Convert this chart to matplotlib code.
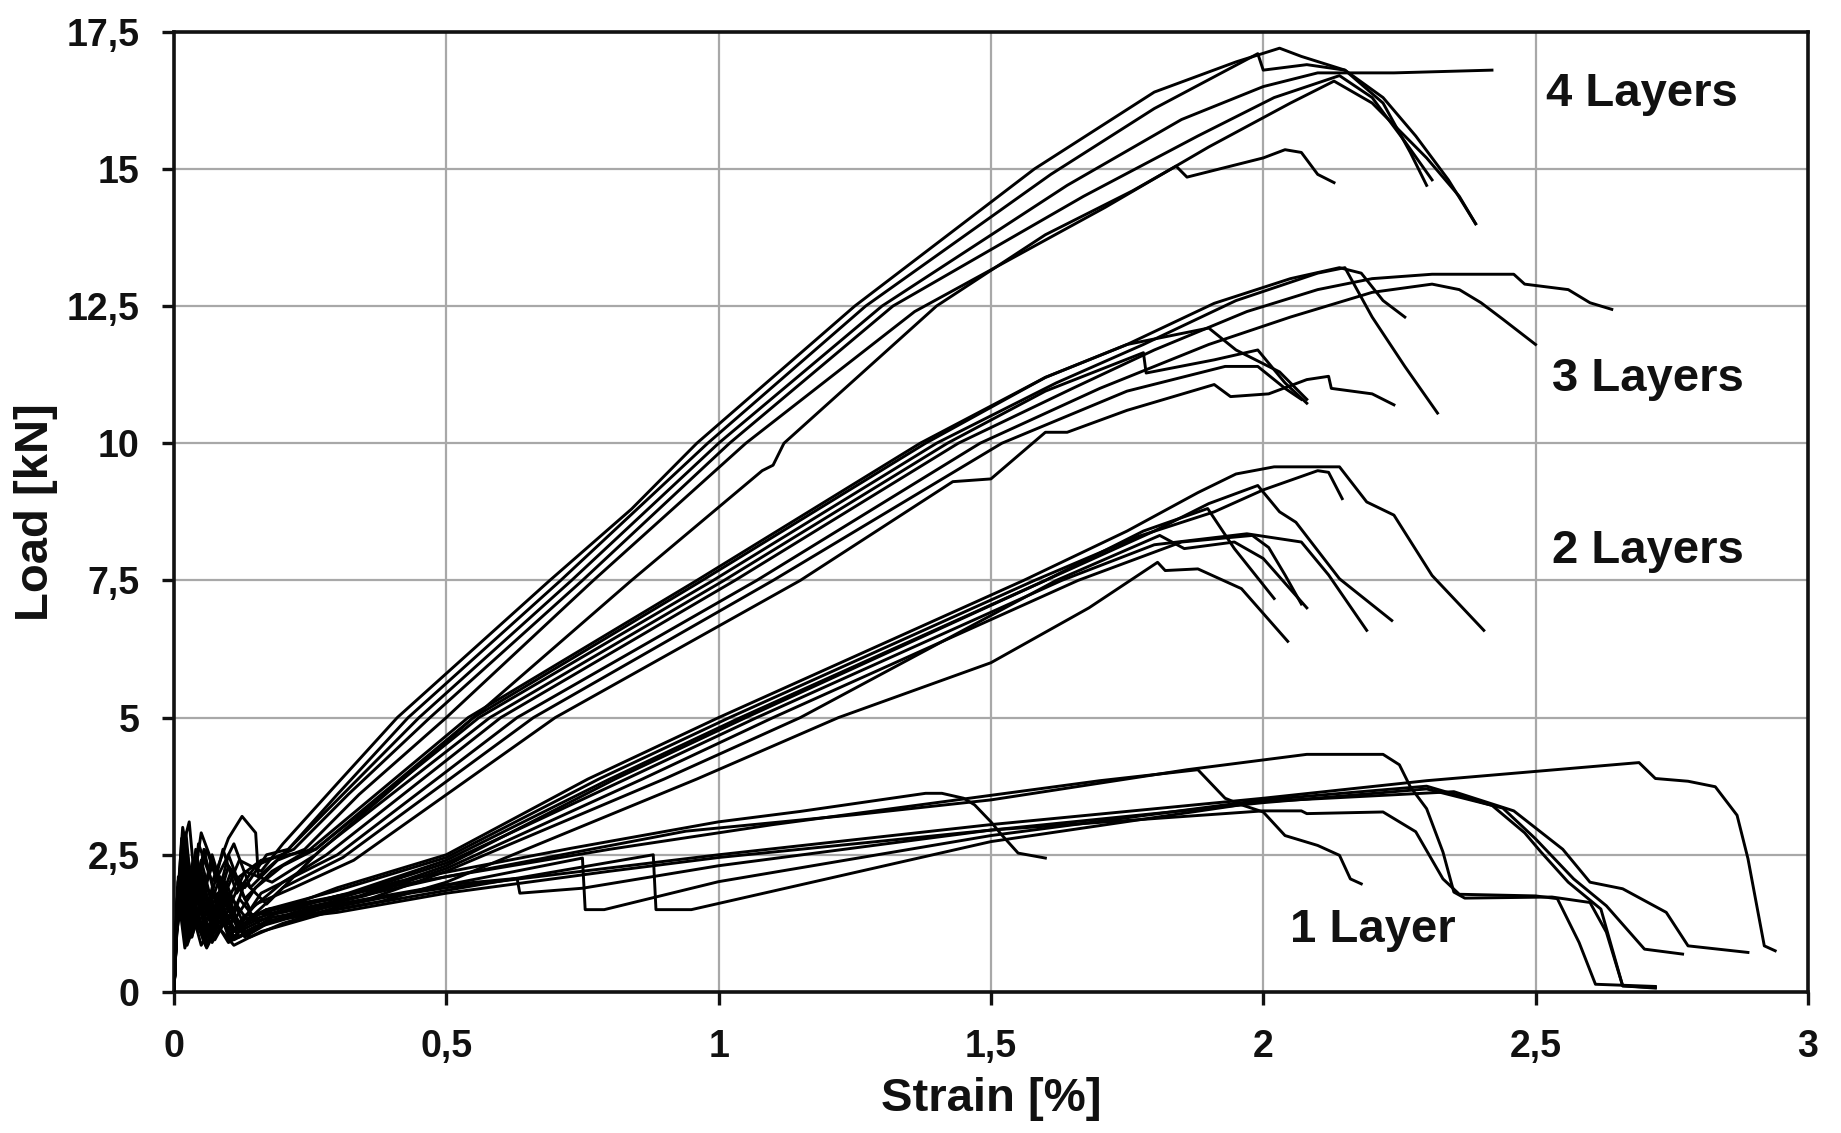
import matplotlib
matplotlib.use("Agg")
import matplotlib.pyplot as plt

plt.rcParams["font.family"] = ["Liberation Sans", "DejaVu Sans"]

# strain [%] / load [kN] points, one list per specimen

layer4 = [
    [(0, 0), (0.006, 1.4), (0.015, 2.6), (0.028, 3.1), (0.04, 1.8), (0.06, 2.6), (0.09, 1.7), (0.12, 2.4),
     (0.16, 2.2), (0.2, 2.7), (0.3, 3.8), (0.41, 5.0), (0.69, 7.5), (0.84, 8.8), (0.85, 8.9), (0.96, 10.0),
     (1.25, 12.5), (1.58, 15.0), (1.8, 16.4), (1.95, 16.95), (2.03, 17.2), (2.07, 17.05), (2.15, 16.8),
     (2.22, 16.2), (2.27, 15.3), (2.30, 14.7)],
    [(0, 0), (0.004, 1.0), (0.012, 2.2), (0.022, 2.9), (0.035, 1.5), (0.05, 2.4), (0.075, 1.4), (0.1, 2.3),
     (0.13, 1.9), (0.17, 2.5), (0.21, 2.6), (0.3, 3.6), (0.43, 5.0), (0.71, 7.5), (0.98, 10.0), (1.27, 12.5),
     (1.61, 14.9), (1.8, 16.1), (1.99, 17.1), (2.0, 16.8), (2.08, 16.9), (2.15, 16.8), (2.22, 16.3),
     (2.28, 15.6), (2.34, 14.8), (2.39, 14.0)],
    [(0, 0), (0.008, 1.8), (0.018, 2.4), (0.03, 1.3), (0.045, 2.7), (0.07, 2.0), (0.1, 2.8), (0.125, 3.2),
     (0.15, 2.9), (0.155, 2.1), (0.2, 2.5), (0.3, 3.5), (0.45, 5.0), (0.73, 7.5), (1.0, 10.0), (1.3, 12.5),
     (1.64, 14.7), (1.85, 15.9), (2.0, 16.5), (2.1, 16.75), (2.24, 16.75), (2.42, 16.8)],
    [(0, 0), (0.005, 1.2), (0.014, 2.8), (0.025, 2.0), (0.04, 2.5), (0.065, 1.6), (0.09, 2.6), (0.115, 1.8),
     (0.15, 2.3), (0.22, 2.6), (0.32, 3.6), (0.47, 5.0), (0.75, 7.5), (1.02, 10.0), (1.32, 12.5),
     (1.67, 14.5), (1.88, 15.6), (2.02, 16.3), (2.14, 16.7), (2.2, 16.3), (2.26, 15.5), (2.31, 14.8)],
    [(0, 0), (0.007, 2.0), (0.02, 2.5), (0.032, 1.7), (0.05, 2.9), (0.08, 2.1), (0.11, 2.7), (0.14, 1.9),
     (0.19, 2.4), (0.24, 2.6), (0.34, 3.6), (0.50, 5.0), (0.77, 7.5), (1.05, 10.0), (1.36, 12.4),
     (1.71, 14.3), (1.9, 15.4), (2.05, 16.2), (2.13, 16.6), (2.2, 16.2), (2.3, 15.2), (2.36, 14.5),
     (2.39, 14.0)],
    [(0, 0), (0.005, 1.5), (0.016, 3.0), (0.03, 2.2), (0.05, 1.6), (0.07, 2.5), (0.1, 1.5), (0.13, 2.2),
     (0.18, 2.0), (0.26, 2.5), (0.4, 3.7), (0.55, 5.0), (0.84, 7.5), (1.08, 9.5), (1.1, 9.6), (1.12, 10.0),
     (1.40, 12.5), (1.6, 13.8), (1.76, 14.6), (1.84, 15.05), (1.86, 14.85), (2.0, 15.2), (2.04, 15.35),
     (2.07, 15.3), (2.10, 14.9), (2.13, 14.75)],
]

layer3 = [
    [(0, 0), (0.006, 1.7), (0.018, 2.7), (0.03, 1.6), (0.05, 2.2), (0.075, 1.5), (0.1, 2.5), (0.13, 1.7),
     (0.18, 2.2), (0.25, 2.6), (0.54, 5.0), (0.96, 7.5), (1.37, 10.0), (1.6, 11.2), (1.75, 11.8),
     (1.91, 12.55), (2.05, 13.0), (2.14, 13.2), (2.18, 13.1), (2.22, 12.6), (2.26, 12.3)],
    [(0, 0), (0.004, 1.3), (0.013, 2.4), (0.025, 1.2), (0.04, 2.6), (0.06, 1.4), (0.085, 2.1), (0.11, 1.3),
     (0.15, 1.9), (0.2, 2.3), (0.26, 2.6), (0.56, 5.0), (0.99, 7.5), (1.4, 10.0), (1.62, 11.1),
     (1.78, 11.8), (1.95, 12.6), (2.1, 13.1), (2.15, 13.2), (2.2, 12.3), (2.26, 11.4), (2.32, 10.55)],
    [(0, 0), (0.007, 1.9), (0.02, 2.2), (0.033, 1.4), (0.055, 2.6), (0.08, 1.5), (0.105, 2.2),
     (0.14, 1.5), (0.2, 2.0), (0.28, 2.5), (0.6, 5.0), (1.03, 7.5), (1.44, 10.0), (1.65, 11.0), (1.8, 11.7),
     (1.97, 12.4), (2.1, 12.8), (2.2, 13.0), (2.31, 13.08), (2.46, 13.08), (2.48, 12.9), (2.56, 12.8),
     (2.6, 12.56), (2.64, 12.44)],
    [(0, 0), (0.005, 1.1), (0.015, 2.5), (0.028, 1.8), (0.045, 2.3), (0.07, 1.3), (0.095, 1.9),
     (0.12, 1.2), (0.16, 1.8), (0.22, 2.1), (0.3, 2.5), (0.63, 5.0), (1.07, 7.5), (1.48, 10.0), (1.7, 11.0),
     (1.9, 11.8), (2.05, 12.3), (2.2, 12.75), (2.31, 12.9), (2.36, 12.8), (2.4, 12.56), (2.44, 12.26),
     (2.5, 11.8)],
    [(0, 0), (0.008, 2.1), (0.02, 1.5), (0.035, 2.4), (0.055, 1.2), (0.08, 1.8), (0.1, 1.1), (0.13, 2.0),
     (0.17, 1.6), (0.27, 2.6), (0.58, 5.0), (1.01, 7.5), (1.42, 10.0), (1.6, 10.95), (1.78, 11.65),
     (1.785, 11.28), (1.91, 11.52), (1.99, 11.7), (2.04, 11.1), (2.08, 10.73)],
    [(0, 0), (0.006, 1.6), (0.017, 2.9), (0.03, 2.0), (0.048, 1.6), (0.07, 2.3), (0.095, 1.6), (0.12, 2.1),
     (0.16, 2.4), (0.26, 2.6), (0.55, 5.0), (0.97, 7.5), (1.38, 10.0), (1.6, 11.2), (1.75, 11.8),
     (1.9, 12.1), (1.95, 11.7), (2.03, 11.3), (2.08, 10.8)],
    [(0, 0), (0.005, 1.3), (0.012, 2.0), (0.026, 1.1), (0.04, 1.9), (0.06, 1.0), (0.085, 1.6), (0.11, 1.1),
     (0.15, 1.6), (0.22, 1.9), (0.33, 2.4), (0.7, 5.0), (1.15, 7.5), (1.43, 9.3), (1.5, 9.35), (1.6, 10.2),
     (1.64, 10.2), (1.75, 10.6), (1.91, 11.07), (1.94, 10.85), (2.01, 10.9), (2.08, 11.16), (2.12, 11.22),
     (2.125, 11.0), (2.2, 10.9), (2.24, 10.7)],
    [(0, 0), (0.007, 1.5), (0.019, 2.3), (0.032, 1.3), (0.05, 2.1), (0.07, 1.2), (0.1, 1.8), (0.135, 1.3),
     (0.2, 1.9), (0.31, 2.45), (0.66, 5.0), (1.1, 7.5), (1.52, 10.0), (1.75, 10.95), (1.93, 11.4),
     (1.99, 11.4), (2.04, 11.0), (2.07, 10.8)],
]

layer2 = [
    [(0, 0), (0.005, 1.4), (0.014, 2.1), (0.027, 1.0), (0.04, 1.8), (0.06, 1.1), (0.085, 1.7),
     (0.11, 1.0), (0.15, 1.4), (0.22, 1.6), (0.3, 1.9), (0.5, 2.5), (0.76, 3.88), (1.0, 5.0), (1.56, 7.5),
     (1.75, 8.4), (1.88, 9.1), (1.95, 9.44), (2.02, 9.57), (2.14, 9.57), (2.19, 8.93), (2.24, 8.69),
     (2.31, 7.59), (2.405, 6.59)],
    [(0, 0), (0.007, 1.8), (0.017, 2.5), (0.03, 1.2), (0.045, 2.0), (0.065, 1.3), (0.09, 1.9),
     (0.12, 1.2), (0.17, 1.5), (0.3, 1.85), (0.5, 2.45), (0.78, 3.88), (1.02, 5.0), (1.58, 7.5),
     (1.77, 8.3), (1.91, 8.75), (2.0, 9.15), (2.1, 9.5), (2.12, 9.47), (2.145, 8.99)],
    [(0, 0), (0.004, 1.0), (0.011, 1.9), (0.023, 1.2), (0.038, 1.6), (0.055, 0.9), (0.08, 1.5),
     (0.105, 0.95), (0.14, 1.3), (0.2, 1.5), (0.32, 1.8), (0.5, 2.4), (0.8, 3.88), (1.04, 5.0), (1.6, 7.5),
     (1.8, 8.4), (1.9, 8.9), (1.99, 9.23), (2.03, 8.75), (2.06, 8.56), (2.14, 7.53), (2.236, 6.77)],
    [(0, 0), (0.006, 1.6), (0.016, 2.4), (0.029, 1.5), (0.045, 2.2), (0.07, 1.4), (0.095, 2.0),
     (0.125, 1.3), (0.17, 1.5), (0.33, 1.8), (0.5, 2.35), (0.83, 3.88), (1.07, 5.0), (1.63, 7.5),
     (1.8, 8.15), (1.97, 8.35), (2.07, 8.2), (2.12, 7.6), (2.19, 6.59)],
    [(0, 0), (0.005, 1.2), (0.013, 2.2), (0.025, 1.4), (0.042, 1.9), (0.06, 1.0), (0.08, 1.6),
     (0.1, 1.0), (0.13, 1.4), (0.2, 1.45), (0.34, 1.75), (0.5, 2.3), (0.81, 3.88), (1.05, 5.0), (1.6, 7.5),
     (1.78, 8.4), (1.898, 8.81), (1.947, 8.08), (2.02, 7.17)],
    [(0, 0), (0.006, 1.5), (0.018, 2.6), (0.03, 1.6), (0.05, 1.1), (0.07, 1.9), (0.095, 1.2),
     (0.12, 1.7), (0.16, 1.2), (0.22, 1.45), (0.35, 1.75), (0.5, 2.25), (0.86, 3.88), (1.1, 5.0),
     (1.66, 7.5), (1.85, 8.2), (1.98, 8.32), (2.01, 8.1), (2.04, 7.6), (2.07, 7.07)],
    [(0, 0), (0.004, 1.1), (0.012, 1.7), (0.024, 0.9), (0.04, 1.5), (0.058, 0.85), (0.08, 1.3),
     (0.11, 1.1), (0.15, 1.3), (0.36, 1.7), (0.5, 2.2), (0.9, 3.88), (1.15, 5.0), (1.62, 7.5),
     (1.81, 8.32), (1.855, 8.08), (1.947, 8.2), (2.0, 7.9), (2.08, 7.0)],
    [(0, 0), (0.007, 1.9), (0.019, 2.2), (0.033, 1.0), (0.05, 1.7), (0.075, 1.1), (0.1, 1.6),
     (0.13, 1.1), (0.18, 1.3), (0.38, 1.65), (0.5, 2.0), (0.96, 3.88), (1.22, 5.0), (1.5, 6.0), (1.68, 7.0),
     (1.806, 7.83), (1.82, 7.68), (1.88, 7.71), (1.96, 7.35), (2.045, 6.39)],
]

layer1 = [
    [(0, 0), (0.005, 1.3), (0.015, 2.3), (0.028, 1.1), (0.045, 1.9), (0.065, 1.0), (0.09, 1.7),
     (0.12, 1.2), (0.17, 1.5), (0.3, 1.7), (0.41, 2.01), (0.73, 2.62), (1.0, 3.1), (1.15, 3.29),
     (1.38, 3.62), (1.41, 3.62), (1.45, 3.53), (1.47, 3.41), (1.5, 3.1), (1.52, 2.86), (1.55, 2.53),
     (1.6, 2.44)],
    [(0, 0), (0.006, 1.7), (0.017, 2.0), (0.03, 1.0), (0.048, 1.6), (0.07, 0.9), (0.1, 1.5), (0.13, 1.0),
     (0.18, 1.3), (0.3, 1.65), (0.5, 2.1), (0.94, 2.93), (1.25, 3.23), (1.5, 3.5), (1.86, 4.05),
     (2.08, 4.33), (2.22, 4.33), (2.25, 4.14), (2.27, 3.74), (2.30, 3.34), (2.33, 2.55), (2.35, 1.82),
     (2.37, 1.71), (2.53, 1.73), (2.60, 1.63), (2.63, 1.09), (2.66, 0.11), (2.72, 0.07)],
    [(0, 0), (0.004, 0.9), (0.01, 1.6), (0.02, 0.8), (0.035, 1.4), (0.05, 0.85), (0.075, 1.3),
     (0.1, 0.9), (0.15, 1.2), (0.3, 1.6), (0.5, 1.9), (0.75, 2.2), (1.0, 2.5), (1.5, 3.05), (2.0, 3.53),
     (2.3, 3.85), (2.69, 4.18), (2.72, 3.89), (2.78, 3.84), (2.83, 3.74), (2.87, 3.22), (2.89, 2.43),
     (2.92, 0.84), (2.94, 0.75)],
    [(0, 0), (0.006, 1.5), (0.016, 2.1), (0.03, 1.3), (0.05, 1.8), (0.07, 1.2), (0.095, 1.6),
     (0.12, 1.1), (0.18, 1.4), (0.3, 1.75), (0.5, 2.1), (0.8, 2.6), (1.1, 3.05), (1.4, 3.45), (1.7, 3.85),
     (1.88, 4.05), (1.93, 3.53), (1.96, 3.41), (2.0, 3.28), (2.04, 2.85), (2.10, 2.67), (2.14, 2.49),
     (2.16, 2.06), (2.18, 1.97)],
    [(0, 0), (0.005, 1.2), (0.013, 1.9), (0.025, 0.9), (0.04, 1.6), (0.06, 0.9), (0.085, 1.4),
     (0.11, 0.95), (0.16, 1.2), (0.3, 1.6), (0.5, 1.95), (0.63, 2.07), (0.635, 1.8), (0.75, 1.89),
     (1.0, 2.3), (1.5, 2.95), (2.0, 3.45), (2.3, 3.7), (2.44, 3.35), (2.5, 2.79), (2.57, 2.06),
     (2.63, 1.57), (2.70, 0.78), (2.77, 0.69)],
    [(0, 0), (0.007, 1.6), (0.018, 1.8), (0.032, 1.0), (0.05, 1.5), (0.075, 0.95), (0.1, 1.4),
     (0.14, 1.0), (0.2, 1.25), (0.3, 1.55), (0.5, 1.95), (0.75, 2.44), (0.755, 1.5), (0.79, 1.5),
     (1.0, 2.01), (1.5, 2.85), (2.0, 3.5), (2.3, 3.75), (2.42, 3.4), (2.48, 2.9), (2.51, 2.55), (2.56, 2.0),
     (2.62, 1.51), (2.66, 0.11), (2.72, 0.08)],
    [(0, 0), (0.005, 1.1), (0.012, 1.5), (0.024, 0.85), (0.04, 1.3), (0.06, 0.8), (0.08, 1.2),
     (0.11, 0.85), (0.16, 1.1), (0.3, 1.5), (0.5, 1.85), (0.88, 2.5), (0.885, 1.5), (0.95, 1.5),
     (1.5, 2.74), (2.0, 3.47), (2.35, 3.65), (2.46, 3.3), (2.55, 2.6), (2.6, 2.0), (2.66, 1.88),
     (2.74, 1.45), (2.78, 0.84), (2.89, 0.72)],
    [(0, 0), (0.006, 1.4), (0.015, 2.0), (0.027, 1.2), (0.044, 1.7), (0.065, 1.05), (0.09, 1.5),
     (0.12, 1.0), (0.17, 1.3), (0.3, 1.45), (0.5, 1.8), (0.8, 2.2), (1.0, 2.45), (1.5, 2.95), (2.0, 3.3),
     (2.07, 3.3), (2.08, 3.25), (2.22, 3.28), (2.28, 2.92), (2.33, 2.06), (2.36, 1.78), (2.5, 1.75),
     (2.54, 1.7), (2.58, 0.9), (2.61, 0.14), (2.72, 0.1)],
]

group_labels = ["4 Layers", "3 Layers", "2 Layers", "1 Layer"]
label_pos = [(2.52, 16.37), (2.53, 11.17), (2.53, 8.04), (2.05, 1.13)]

x_ticks = [0, 0.5, 1, 1.5, 2, 2.5, 3]
x_tick_labels = ["0", "0,5", "1", "1,5", "2", "2,5", "3"]
y_ticks = [0, 2.5, 5, 7.5, 10, 12.5, 15, 17.5]
y_tick_labels = ["0", "2,5", "5", "7,5", "10", "12,5", "15", "17,5"]


fig = plt.figure(figsize=(18.41, 11.33), dpi=100)
ax = fig.add_axes([0.0945, 0.1245, 0.8875, 0.8475])

for group in (layer4, layer3, layer2, layer1):
    for curve in group:
        xs = [p[0] for p in curve]
        ys = [p[1] for p in curve]
        ax.plot(xs, ys, color="black", linewidth=2.1, solid_joinstyle="round", zorder=3)

for lab, (lx, ly) in zip(group_labels, label_pos):
    ax.text(lx, ly, lab, fontsize=34, fontweight="bold", ha="left", va="center", color="#111111")

ax.set_xlim(0, 3)
ax.set_ylim(0, 17.5)
ax.set_xticks(x_ticks)
ax.set_xticklabels(x_tick_labels)
ax.set_yticks(y_ticks)
ax.set_yticklabels(y_tick_labels)
ax.grid(True, color="#a8a8a8", linewidth=1.6, zorder=0)
ax.set_axisbelow(True)

for sp in ax.spines.values():
    sp.set_linewidth(2.6)
    sp.set_color("#111111")

ax.tick_params(direction="out", length=9, width=2.4, pad=18, colors="#111111")
ax.tick_params(axis="y", pad=16)
for t in ax.get_xticklabels() + ax.get_yticklabels():
    t.set_fontweight("bold")
    t.set_fontsize(27)

ax.set_xlabel("Strain [%]", fontsize=34, fontweight="bold", labelpad=8, color="#111111")
ax.set_ylabel("Load [kN]", fontsize=34, fontweight="bold", labelpad=6, color="#111111")

fig.savefig("out.png", dpi=100)
